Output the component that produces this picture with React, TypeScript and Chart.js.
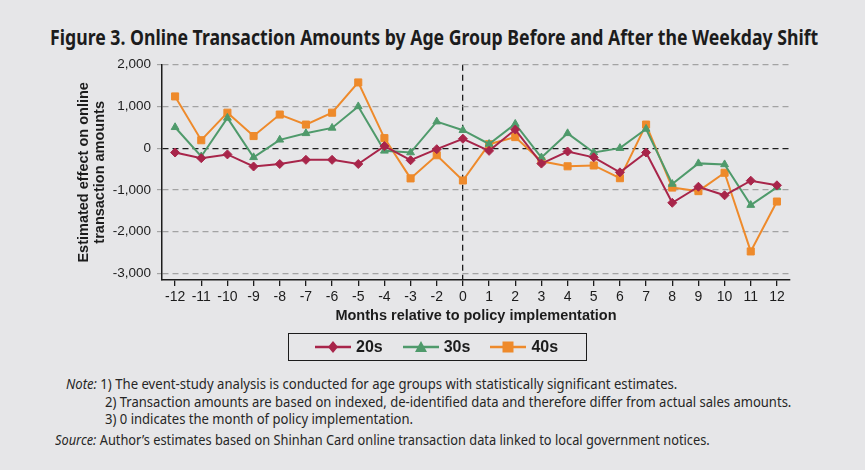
import { useEffect, useLayoutEffect, useRef, useState } from 'react'
import type { ReactNode, CSSProperties } from 'react'
import { Chart, registerables } from 'chart.js'

Chart.register(...registerables)

// months relative to policy (−1 is the omitted reference month)
const months = ['-12', '-11', '-10', '-9', '-8', '-7', '-6', '-5', '-4', '-3', '-2', '0', '1', '2', '3', '4', '5', '6', '7', '8', '9', '10', '11', '12']
const age20s = [-105, -240, -150, -440, -380, -280, -280, -380, 50, -290, -25, 225, -65, 445, -370, -80, -220, -580, -105, -1310, -925, -1130, -780, -890]
const age30s = [500, -200, 725, -220, 200, 355, 485, 1000, -65, -105, 635, 430, 100, 580, -225, 355, -105, 0, 460, -860, -365, -390, -1365, -940]
const age40s = [1240, 190, 850, 290, 805, 565, 850, 1575, 240, -725, -170, -775, 95, 265, -315, -435, -415, -720, 565, -945, -1030, -590, -2475, -1280]
const yTicks = [2000, 1000, 0, -1000, -2000, -3000]

const RED = '#a8254a'
const GREEN = '#4f9a6b'
const ORANGE = '#ee8a2b'
const INK = '#1c1c1c'
const GRID = '#a3a3a3'
const BG = '#e6e6e8'
const FONT = "'Liberation Sans', Arial, sans-serif"
const TEXT_FONT = "'Noto Sans', 'Open Sans', sans-serif"

function FitLine({ left, top, width, style, children }: { left: number; top: number; width: number; style?: CSSProperties; children: ReactNode }) {
  const ref = useRef<HTMLDivElement>(null)
  const [scale, setScale] = useState(1)
  useLayoutEffect(() => {
    if (ref.current) setScale(width / ref.current.offsetWidth)
  }, [width])
  return (
    <div
      ref={ref}
      style={{
        position: 'absolute',
        left,
        top,
        whiteSpace: 'nowrap',
        transform: `scaleX(${scale})`,
        transformOrigin: 'left center',
        ...style
      }}
    >
      {children}
    </div>
  )
}

function LegendIcon({ color, shape }: { color: string; shape: 'diamond' | 'triangle' | 'square' }) {
  return (
    <svg width="36" height="14" style={{ display: 'block' }}>
      <line x1="0" y1="7" x2="36" y2="7" stroke={color} strokeWidth="2.5" />
      {shape === 'diamond' && <polygon points="18,1 23,7 18,13 13,7" fill={color} />}
      {shape === 'triangle' && <polygon points="18,1 24,12 12,12" fill={color} />}
      {shape === 'square' && <rect x="12.5" y="1.5" width="11" height="11" fill={color} />}
    </svg>
  )
}

function LineChart() {
  const canvasRef = useRef<HTMLCanvasElement>(null)

  useEffect(() => {
    if (!canvasRef.current) return
    const point = (color: string, style: string, radius: number) => ({
      borderColor: color,
      backgroundColor: color,
      pointBackgroundColor: color,
      pointBorderColor: color,
      pointStyle: style,
      pointRadius: radius,
      pointBorderWidth: 1,
      borderWidth: 2,
      tension: 0
    })

    const chart = new Chart(canvasRef.current, {
      type: 'line',
      data: {
        labels: months,
        datasets: [
          { label: '20s', data: age20s, ...point(RED, 'rectRot', 4.5) },
          { label: '30s', data: age30s, ...point(GREEN, 'triangle', 4.5) },
          { label: '40s', data: age40s, ...point(ORANGE, 'rect', 5) }
        ]
      },
      options: {
        animation: false,
        responsive: true,
        maintainAspectRatio: false,
        layout: { padding: { top: 24.7, right: 15, bottom: 0, left: 0 } },
        plugins: { legend: { display: false }, tooltip: { enabled: false } },
        scales: {
          x: {
            offset: true,
            grid: {
              color: (ctx: any) => (ctx.index === 11 ? INK : 'transparent'),
              lineWidth: 1.3,
              tickColor: INK,
              tickLength: 6
            },
            border: { color: INK, width: 1.5, dash: [6, 4] },
            ticks: { color: INK, font: { family: FONT, size: 14 }, padding: 3, maxRotation: 0, autoSkip: false },
            title: {
              display: true,
              text: 'Months relative to policy implementation',
              color: INK,
              font: { family: FONT, size: 14.5, weight: 'bold' },
              padding: { top: 0, bottom: 10 }
            },
            afterFit: (s: any) => { s.height = 55 }
          },
          y: {
            min: -3160,
            max: 2000,
            afterBuildTicks: (s: any) => { s.ticks = yTicks.map(v => ({ value: v })) },
            grid: {
              color: (ctx: any) => (ctx.tick && ctx.tick.value === 0 ? INK : GRID),
              lineWidth: 1.2,
              tickLength: 5,
              tickColor: GRID
            },
            border: { color: INK, width: 1.5, dash: [6, 4] },
            ticks: {
              color: INK,
              font: { family: FONT, size: 13.5 },
              padding: 6,
              callback: (v: any) => Number(v).toLocaleString('en-US')
            },
            title: {
              display: true,
              text: ['Estimated effect on online', 'transaction amounts'],
              color: INK,
              font: { family: FONT, size: 14.5, weight: 'bold', lineHeight: '16px' },
              padding: { top: 16, bottom: 0 }
            },
            afterFit: (s: any) => { s.width = 102 }
          }
        }
      } as any
    })

    return () => {
      chart.destroy()
    }
  }, [])

  return (
    <div style={{ position: 'absolute', left: 60, top: 40, width: 745, height: 295 }}>
      <canvas ref={canvasRef}></canvas>
    </div>
  )
}

export default function App() {
  const noteStyle: CSSProperties = { fontFamily: TEXT_FONT, fontSize: 14.5, lineHeight: '18px', color: '#262626' }
  const legendText: CSSProperties = { fontFamily: FONT, fontSize: 16, fontWeight: 'bold', color: INK }

  return (
    <div style={{ position: 'fixed', left: 0, top: 0, width: 865, height: 470, background: BG, overflow: 'hidden' }}>
      <FitLine left={50} top={24} width={768} style={{ fontFamily: TEXT_FONT, fontSize: 21, fontWeight: 'bold', lineHeight: '26px', color: INK }}>
        Figure 3. Online Transaction Amounts by Age Group Before and After the Weekday Shift
      </FitLine>

      <LineChart />

      <div
        style={{
          position: 'absolute',
          left: 288,
          top: 333,
          width: 299,
          height: 28,
          boxSizing: 'border-box',
          border: `1.5px solid ${INK}`,
          display: 'flex',
          alignItems: 'center',
          paddingLeft: 26
        }}
      >
        <LegendIcon color={RED} shape="diamond" />
        <span style={{ ...legendText, marginLeft: 5, marginRight: 20 }}>20s</span>
        <LegendIcon color={GREEN} shape="triangle" />
        <span style={{ ...legendText, marginLeft: 5, marginRight: 20 }}>30s</span>
        <LegendIcon color={ORANGE} shape="square" />
        <span style={{ ...legendText, marginLeft: 5 }}>40s</span>
      </div>

      <FitLine left={66} top={374} width={611} style={noteStyle}>
        <i>Note:</i> 1) The event-study analysis is conducted for age groups with statistically significant estimates.
      </FitLine>
      <FitLine left={105} top={392} width={686} style={noteStyle}>
        2) Transaction amounts are based on indexed, de-identified data and therefore differ from actual sales amounts.
      </FitLine>
      <FitLine left={105} top={409} width={308} style={noteStyle}>
        3) 0 indicates the month of policy implementation.
      </FitLine>
      <FitLine left={55} top={430} width={655} style={noteStyle}>
        <i>Source:</i> Author’s estimates based on Shinhan Card online transaction data linked to local government notices.
      </FitLine>
    </div>
  )
}
